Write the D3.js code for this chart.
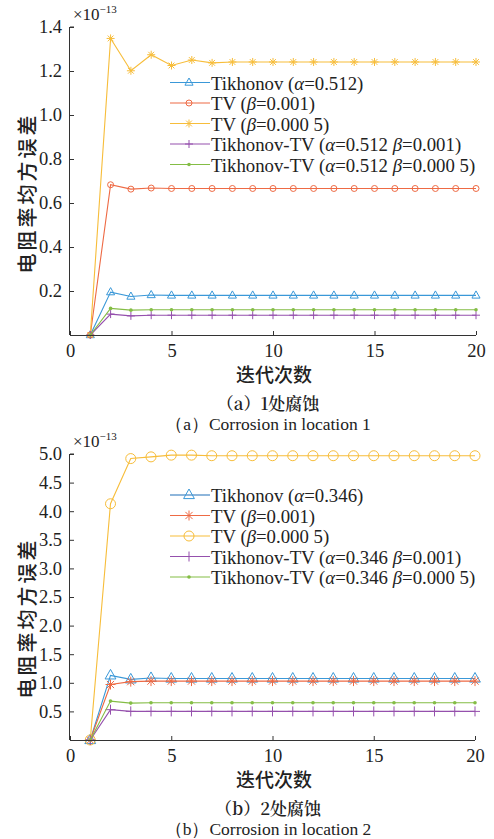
<!DOCTYPE html>
<html><head><meta charset="utf-8">
<script src="https://cdn.jsdelivr.net/npm/d3@7"></script>
</head><body style="margin:0;background:#fff">
<svg id="c" width="494" height="839" style="display:block"></svg>
<script>
// ---- data ----
const iterations = [1,2,3,4,5,6,7,8,9,10,11,12,13,14,15,16,17,18,19,20];
const xTicks = [0,5,10,15,20];
const yTicksA = [0.2,0.4,0.6,0.8,1.0,1.2,1.4];
const yTicksB = [0.5,1.0,1.5,2.0,2.5,3.0,3.5,4.0,4.5,5.0];

const a_tik  = [0,0.195,0.175,0.182,0.180,0.180,0.180,0.180,0.180,0.180,0.180,0.180,0.180,0.180,0.180,0.180,0.180,0.180,0.180,0.180];
const a_tv1  = [0,0.683,0.663,0.668,0.666,0.666,0.666,0.666,0.666,0.666,0.666,0.666,0.666,0.666,0.666,0.666,0.666,0.666,0.666,0.666];
const a_tv2  = [0,1.348,1.201,1.274,1.225,1.250,1.237,1.241,1.241,1.241,1.241,1.241,1.241,1.241,1.241,1.241,1.241,1.241,1.241,1.241];
const a_ttv1 = [0,0.095,0.087,0.090,0.090,0.090,0.090,0.090,0.090,0.090,0.090,0.090,0.090,0.090,0.090,0.090,0.090,0.090,0.090,0.090];
const a_ttv2 = [0,0.121,0.113,0.115,0.115,0.115,0.115,0.115,0.115,0.115,0.115,0.115,0.115,0.115,0.115,0.115,0.115,0.115,0.115,0.115];

const b_tik  = [0,1.13,1.06,1.085,1.075,1.075,1.075,1.075,1.075,1.075,1.075,1.075,1.075,1.075,1.075,1.075,1.075,1.075,1.075,1.075];
const b_tv1  = [0,0.97,1.02,1.03,1.03,1.03,1.03,1.03,1.03,1.03,1.03,1.03,1.03,1.03,1.03,1.03,1.03,1.03,1.03,1.03];
const b_tv2  = [0,4.13,4.92,4.95,4.98,4.98,4.97,4.97,4.97,4.97,4.97,4.97,4.97,4.97,4.97,4.97,4.97,4.97,4.97,4.97];
const b_ttv1 = [0,0.53,0.50,0.50,0.50,0.50,0.50,0.50,0.50,0.50,0.50,0.50,0.50,0.50,0.50,0.50,0.50,0.50,0.50,0.50];
const b_ttv2 = [0,0.68,0.645,0.65,0.65,0.65,0.65,0.65,0.65,0.65,0.65,0.65,0.65,0.65,0.65,0.65,0.65,0.65,0.65,0.65];

const labelsA = ["Tikhonov (α=0.512)","TV (β=0.001)","TV (β=0.000 5)","Tikhonov-TV (α=0.512 β=0.001)","Tikhonov-TV (α=0.512 β=0.000 5)"];
const labelsB = ["Tikhonov (α=0.346)","TV (β=0.001)","TV (β=0.000 5)","Tikhonov-TV (α=0.346 β=0.001)","Tikhonov-TV (α=0.346 β=0.000 5)"];

const C = {blue:"#3a98d8", red:"#ee6a44", yellow:"#f7bd3a", purple:"#9550ad", green:"#84bd45"};

const svg = d3.select("#c");
const SERIF = "Liberation Serif", SANS_CJK = "Noto Sans CJK SC", SERIF_CJK = "Noto Serif CJK SC";
function font(sel, fam, size, weight, extra) {
  sel.attr("style", `font-family:'${fam}';font-size:${size}px` + (weight ? `;font-weight:${weight}` : "") + (extra || ""));
  return sel;
}

function marker(g, type, x, y, color, s) {
  if (type === "tri") {
    const r = s;
    g.append("path").attr("d", `M${x},${y-r}L${x+r*0.9},${y+r*0.6}L${x-r*0.9},${y+r*0.6}Z`)
      .attr("fill","none").attr("stroke",color).attr("stroke-width",1);
  } else if (type === "circ") {
    g.append("circle").attr("cx",x).attr("cy",y).attr("r",s).attr("fill","none").attr("stroke",color).attr("stroke-width",1);
  } else if (type === "star") {
    const r = s, d = r*0.72;
    g.append("path").attr("d",`M${x-r},${y}H${x+r}M${x},${y-r}V${y+r}M${x-d},${y-d}L${x+d},${y+d}M${x-d},${y+d}L${x+d},${y-d}`)
      .attr("stroke",color).attr("stroke-width",1).attr("fill","none");
  } else if (type === "plus") {
    const r = s;
    g.append("path").attr("d",`M${x-r},${y}H${x+r}M${x},${y-r}V${y+r}`).attr("stroke",color).attr("stroke-width",1);
  } else if (type === "dot") {
    g.append("circle").attr("cx",x).attr("cy",y).attr("r",s).attr("fill",color);
  }
}

function chart(cfg) {
  const x = d3.scaleLinear().domain([0,20]).range([70, cfg.right]);
  const y = d3.scaleLinear().domain([0, cfg.ymax]).range([cfg.bottom, cfg.top]);
  const g = svg.append("g");
  const axisColor = "#333";

  const line = d3.line().x((d,i)=>x(iterations[i])).y(d=>y(d));
  cfg.series.forEach(s => {
    g.append("path").datum(s.values).attr("d", line).attr("fill","none")
      .attr("stroke", s.color).attr("stroke-width", 1.1);
    s.values.forEach((v,i) => marker(g, s.marker, x(iterations[i]), y(v), s.mcolor || s.color, s.msize));
  });

  const ax = g.append("g").attr("transform",`translate(0,${cfg.bottom})`)
    .call(d3.axisBottom(x).tickValues(xTicks).tickSize(-4).tickPadding(9).tickFormat(d3.format("d")));
  const ay = g.append("g").attr("transform",`translate(70,0)`)
    .call(d3.axisLeft(y).tickValues(cfg.yTicks).tickSize(-4).tickPadding(8).tickFormat(d3.format(".1f")));
  [ax, ay].forEach(a => {
    a.attr("font-family", null).attr("font-size", null);
    a.select(".domain").attr("stroke",axisColor).attr("stroke-width",1);
    a.selectAll(".tick line").attr("stroke",axisColor);
    a.selectAll("text").each(function(){ font(d3.select(this), SERIF, 18.5); }).attr("fill","#222");
  });
  ay.select(".domain").attr("d",`M-0.5,${cfg.bottom}V${cfg.top}`);
  ax.select(".domain").attr("d",`M70,0.5H${cfg.right}`);
  g.append("line").attr("x1",70).attr("x2",74).attr("y1",cfg.top).attr("y2",cfg.top).attr("stroke",axisColor);

  const ex = font(g.append("text"), SERIF, 17).attr("x",73).attr("y",cfg.top-7).attr("fill","#222");
  ex.append("tspan").text("×10");
  font(ex.append("tspan"), SERIF, 11).text("−13").attr("dy",-7);

  font(g.append("text"), SANS_CJK, 20, 500, ";letter-spacing:3px").attr("transform",`translate(26,${cfg.ylabY}) rotate(-90)`).attr("text-anchor","middle")
    .attr("dominant-baseline","central").attr("fill","#222").text("电阻率均方误差");
  font(g.append("text"), SANS_CJK, 19, 500).attr("x",274).attr("y",cfg.bottom+38).attr("text-anchor","middle").attr("dominant-baseline","central")
    .attr("fill","#222").text("迭代次数");
  font(g.append("text"), SERIF_CJK, 17, 600).attr("x",268).attr("y",cfg.bottom+67).attr("text-anchor","middle").attr("dominant-baseline","central")
    .attr("fill","#222").text(cfg.cap1);
  font(g.append("text"), SERIF, 17.5).attr("x",268).attr("y",cfg.bottom+89).attr("text-anchor","middle").attr("dominant-baseline","central")
    .attr("fill","#222").text(cfg.cap2);

  cfg.series.forEach((s,i) => {
    const ly = cfg.legY + i*20.5;
    g.append("line").attr("x1",170).attr("x2",210).attr("y1",ly).attr("y2",ly).attr("stroke",s.legColor||s.color).attr("stroke-width",1.1);
    marker(g, s.marker, 189, ly, s.mcolor || s.color, s.msize);
    const t = font(g.append("text"), SERIF, 18.8).attr("x",211).attr("y",ly).attr("dominant-baseline","central").attr("fill","#222");
    cfg.labels[i].split(/([αβ])/).forEach(part => {
      const sp = t.append("tspan").text(part);
      if (part === "α" || part === "β") sp.attr("style","font-style:italic");
    });
  });
}

chart({
  top: 27, bottom: 335, right: 476, ymax: 1.4, yTicks: yTicksA, ylabY: 193, legY: 82.5,
  cap1: "（a）1处腐蚀", cap2: "（a）Corrosion in location 1", labels: labelsA,
  series: [
    {values:a_tik, color:C.blue, marker:"tri", msize:4.5},
    {values:a_tv1, color:C.red, marker:"circ", msize:3},
    {values:a_tv2, color:C.yellow, marker:"star", msize:4},
    {values:a_ttv1, color:C.purple, marker:"plus", msize:4},
    {values:a_ttv2, color:C.green, marker:"dot", msize:1.8}
  ]
});
chart({
  top: 454, bottom: 740, right: 475, ymax: 5.0, yTicks: yTicksB, ylabY: 618, legY: 495,
  cap1: "（b）2处腐蚀", cap2: "（b）Corrosion in location 2", labels: labelsB,
  series: [
    {values:b_tik, color:C.blue, legColor:"#1f6fb8", marker:"tri", msize:6},
    {values:b_tv1, color:C.red, marker:"star", msize:5},
    {values:b_tv2, color:C.yellow, marker:"circ", msize:5},
    {values:b_ttv1, color:C.purple, marker:"plus", msize:5},
    {values:b_ttv2, color:C.green, marker:"dot", msize:1.8}
  ]
});
</script>
</body></html>
